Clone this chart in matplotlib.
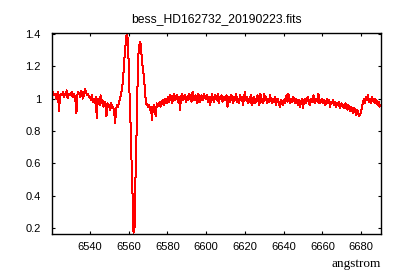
import matplotlib
matplotlib.use('Agg')
import matplotlib.pyplot as plt
import numpy as np
from matplotlib.ticker import FormatStrFormatter, FixedLocator

wave_start = 6520.0
wave_step = 0.5

flux = np.array([
    # 6520 - 6529.5
    1.03, 1.01, 1.04, 1.02, 1.03, 1.00, 1.02, 1.04, 0.92, 1.01, 1.03, 1.02, 1.04, 1.01, 1.03, 1.02, 1.05, 1.00, 1.03, 1.02,
    # 6530 - 6539.5
    1.02, 1.04, 1.01, 1.03, 1.02, 0.99, 0.91, 1.02, 1.04, 1.03, 1.01, 1.05, 1.02, 1.00, 1.03, 1.06, 1.04, 1.02, 1.03, 1.01,
    # 6540 - 6549.5
    1.01, 0.99, 1.02, 0.98, 1.00, 0.97, 1.01, 0.88, 0.99, 1.00, 0.96, 1.02, 0.97, 0.99, 0.95, 0.98, 0.96, 0.89, 0.97, 0.95,
    # 6550 - 6559.5
    0.96, 0.93, 0.97, 0.94, 0.95, 0.92, 0.85, 0.93, 0.96, 0.95, 0.98, 1.00, 1.02, 1.06, 1.10, 1.19, 1.28, 1.35, 1.40, 1.37,
    # 6560 - 6569.5
    1.22, 1.00, 0.83, 0.60, 0.40, 0.17, 0.20, 0.50, 0.75, 1.05, 1.27, 1.33, 1.35, 1.29, 1.22, 1.17, 1.12, 1.03, 0.97, 0.96,
    # 6570 - 6579.5
    0.95, 0.96, 0.93, 0.95, 0.87, 0.94, 0.96, 0.93, 0.89, 0.97, 0.95, 0.96, 0.98, 0.95, 0.97, 0.99, 0.96, 0.98, 1.00, 0.97,
    # 6580 - 6589.5
    0.99, 1.01, 0.98, 1.02, 1.00, 0.97, 1.01, 1.03, 0.99, 1.00, 1.02, 0.98, 1.01, 0.93, 1.00, 1.03, 0.99, 1.01, 1.02, 0.98,
    # 6590 - 6599.5
    1.01, 0.99, 1.03, 1.00, 1.02, 0.98, 1.04, 1.00, 0.99, 1.02, 1.01, 0.97, 1.03, 1.00, 0.98, 1.02, 1.01, 0.99, 1.03, 1.00,
    # 6600 - 6609.5
    1.00, 1.02, 0.98, 1.01, 0.96, 0.99, 1.03, 1.00, 0.98, 1.02, 1.01, 0.99, 1.03, 0.97, 1.01, 1.00, 1.02, 0.98, 1.01, 0.99,
    # 6610 - 6619.5
    1.00, 1.02, 0.95, 0.99, 1.01, 0.98, 1.02, 1.00, 0.97, 1.01, 0.99, 1.03, 0.98, 1.00, 0.97, 1.02, 0.99, 1.01, 0.96, 1.00,
    # 6620 - 6629.5
    1.04, 0.99, 1.01, 0.97, 1.00, 0.98, 1.02, 0.96, 0.99, 1.01, 0.97, 1.00, 0.98, 1.02, 0.99, 0.96, 1.03, 0.98, 1.00, 0.97,
    # 6630 - 6639.5
    1.03, 0.99, 1.01, 0.97, 1.00, 0.98, 1.02, 0.99, 0.97, 1.00, 0.98, 1.01, 0.96, 0.99, 1.00, 0.97, 0.95, 0.99, 0.98, 0.96,
    # 6640 - 6649.5
    0.99, 0.97, 1.00, 1.02, 0.98, 1.03, 0.99, 0.97, 1.00, 0.98, 1.01, 0.99, 0.97, 1.00, 0.98, 0.96, 0.99, 0.95, 0.98, 1.00,
    # 6650 - 6659.5
    0.94, 0.98, 1.00, 0.97, 0.99, 1.01, 0.98, 0.96, 1.00, 0.98, 0.99, 1.02, 0.97, 0.99, 1.00, 0.98, 1.03, 0.97, 0.99, 0.98,
    # 6660 - 6669.5
    1.00, 0.97, 0.99, 0.96, 0.98, 1.00, 0.97, 0.99, 0.95, 0.98, 0.97, 0.99, 0.96, 0.98, 0.95, 0.97, 0.96, 0.98, 0.94, 0.96,
    # 6670 - 6679.5
    0.97, 0.95, 0.96, 0.94, 0.97, 0.95, 0.93, 0.96, 0.94, 0.92, 0.95, 0.93, 0.91, 0.94, 0.92, 0.90, 0.93, 0.91, 0.89, 0.90,
    # 6680 - 6690
    0.92, 0.95, 0.98, 1.00, 0.97, 1.01, 0.99, 1.02, 0.98, 1.00, 0.97, 1.01, 0.99, 0.98, 1.00, 0.97, 0.99, 0.96, 0.98, 0.95, 0.96,
])
wave = wave_start + wave_step * np.arange(len(flux))

x_ticks = [6540, 6560, 6580, 6600, 6620, 6640, 6660, 6680]
y_ticks = [0.2, 0.4, 0.6, 0.8, 1.0, 1.2, 1.4]
title = 'bess_HD162732_20190223.fits'

plt.rcParams['font.family'] = ['Liberation Sans', 'DejaVu Sans']

fig = plt.figure(figsize=(4, 2.8), dpi=100)
ax = fig.add_axes([52 / 400, 1 - 234 / 280, (381 - 52) / 400, (234 - 33) / 280])

# gnuplot-like hard-edged 1px line
ax.plot(wave, flux, color='#ff0000', linewidth=0.72, antialiased=False)

ax.set_xlim(6520.4, 6690.3)
ax.set_ylim(0.163, 1.405)
ax.xaxis.set_major_locator(FixedLocator(x_ticks))
ax.yaxis.set_major_locator(FixedLocator(y_ticks))
ax.yaxis.set_major_formatter(FormatStrFormatter('%g'))

ax.tick_params(direction='in', length=2.5, width=0.8, top=True, right=True,
               labelsize=8, colors='black')
ax.tick_params(axis='x', pad=6)
ax.tick_params(axis='y', pad=8)
for s in ax.spines.values():
    s.set_linewidth(1.0)
    s.set_color('black')

ax.set_title(title, fontsize=8.7, pad=8)
ax.text(1.0, -0.12, 'angstrom', transform=ax.transAxes, ha='right', va='top',
        fontsize=9.5, family='Liberation Serif')

fig.savefig('out.png', dpi=100, facecolor='white')
